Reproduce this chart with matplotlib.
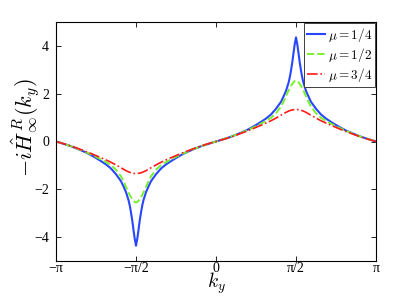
import numpy as np
import matplotlib.pyplot as plt

# k_y in units of pi/128
ky_128 = [-128, -124, -120, -116, -112, -108, -104, -100, -96, -92, -88, -84, -80, -76, -74, -72,
          -70, -69, -68, -67, -66, -65, -64, -63, -62, -61, -60, -59, -58, -56, -54, -52,
          -48, -44, -40, -36, -32, -28, -24, -20, -16, -12, -8, -4,
          0, 4, 8, 12, 16, 20, 24, 28, 32, 36, 40, 44, 48, 52, 54, 56,
          58, 59, 60, 61, 62, 63, 64, 65, 66, 67, 68, 69, 70, 72, 74, 76,
          80, 84, 88, 92, 96, 100, 104, 108, 112, 116, 120, 124, 128]

# mu = 1/4
h_14 = [0, -0.065, -0.13, -0.20, -0.28, -0.37, -0.46, -0.57, -0.69, -0.82, -0.96, -1.13, -1.37, -1.66, -1.88, -2.12,
        -2.45, -2.68, -2.97, -3.30, -3.70, -4.08, -4.36, -4.08, -3.70, -3.30, -2.97, -2.68, -2.45, -2.12, -1.88, -1.66,
        -1.37, -1.13, -0.96, -0.82, -0.69, -0.57, -0.46, -0.37, -0.28, -0.20, -0.13, -0.065,
        0, 0.065, 0.13, 0.20, 0.28, 0.37, 0.46, 0.57, 0.69, 0.82, 0.96, 1.13, 1.37, 1.66, 1.88, 2.12,
        2.45, 2.68, 2.97, 3.30, 3.70, 4.08, 4.36, 4.08, 3.70, 3.30, 2.97, 2.68, 2.45, 2.12, 1.88, 1.66,
        1.37, 1.13, 0.96, 0.82, 0.69, 0.57, 0.46, 0.37, 0.28, 0.20, 0.13, 0.065, 0]

# mu = 1/2
h_12 = [0, -0.065, -0.13, -0.20, -0.28, -0.36, -0.45, -0.54, -0.64, -0.75, -0.86, -0.99, -1.18, -1.46, -1.66, -1.90,
        -2.13, -2.24, -2.33, -2.41, -2.48, -2.53, -2.55, -2.53, -2.48, -2.41, -2.33, -2.24, -2.13, -1.90, -1.66, -1.46,
        -1.18, -0.99, -0.86, -0.75, -0.64, -0.54, -0.45, -0.36, -0.28, -0.20, -0.13, -0.065,
        0, 0.065, 0.13, 0.20, 0.28, 0.36, 0.45, 0.54, 0.64, 0.75, 0.86, 0.99, 1.18, 1.46, 1.66, 1.90,
        2.13, 2.24, 2.33, 2.41, 2.48, 2.53, 2.55, 2.53, 2.48, 2.41, 2.33, 2.24, 2.13, 1.90, 1.66, 1.46,
        1.18, 0.99, 0.86, 0.75, 0.64, 0.54, 0.45, 0.36, 0.28, 0.20, 0.13, 0.065, 0]

# mu = 3/4
h_34 = [0, -0.06, -0.12, -0.19, -0.26, -0.34, -0.42, -0.50, -0.59, -0.68, -0.77, -0.87, -0.98, -1.10, -1.16, -1.22,
        -1.27, -1.29, -1.31, -1.32, -1.33, -1.34, -1.34, -1.34, -1.33, -1.32, -1.31, -1.29, -1.27, -1.22, -1.16, -1.10,
        -0.98, -0.87, -0.77, -0.68, -0.59, -0.50, -0.42, -0.34, -0.26, -0.19, -0.12, -0.06,
        0, 0.06, 0.12, 0.19, 0.26, 0.34, 0.42, 0.50, 0.59, 0.68, 0.77, 0.87, 0.98, 1.10, 1.16, 1.22,
        1.27, 1.29, 1.31, 1.32, 1.33, 1.34, 1.34, 1.34, 1.33, 1.32, 1.31, 1.29, 1.27, 1.22, 1.16, 1.10,
        0.98, 0.87, 0.77, 0.68, 0.59, 0.50, 0.42, 0.34, 0.26, 0.19, 0.12, 0.06, 0]

xtick_labels = ['\u2212\u03c0', '\u2212\u03c0/2', '0', '\u03c0/2', '\u03c0']
ytick_vals = [-4, -2, 0, 2, 4]

plt.rcParams['font.family'] = ['Liberation Serif', 'DejaVu Serif']
plt.rcParams['mathtext.fontset'] = 'cm'

ky = np.array(ky_128) * np.pi / 128

fig = plt.figure(figsize=(4.15, 2.96), dpi=100)
ax = fig.add_axes([56 / 415, 1 - 261 / 296, 320 / 415, 239 / 296])

ax.plot(ky, h_14, '-', color='#2846ff', lw=1.5, label=r'$\mu = 1/4$')
ax.plot(ky, h_12, '--', color='#77f02a', lw=1.4, label=r'$\mu = 1/2$')
ax.plot(ky, h_34, '-.', color='#ff1a1a', lw=1.2, label=r'$\mu = 3/4$')

ax.set_xlim(-np.pi, np.pi)
ax.set_ylim(-5, 5)
ax.set_xticks(np.array([-1, -0.5, 0, 0.5, 1]) * np.pi)
ax.set_xticklabels(xtick_labels)
ax.set_yticks(ytick_vals)
ax.set_yticklabels([str(v).replace('-', '\u2212') for v in ytick_vals])
ax.tick_params(direction='in', top=True, right=True, length=3.5, width=0.6, labelsize=10)
ax.tick_params(axis='x', pad=1)
ax.tick_params(axis='y', pad=5)
for s in ax.spines.values():
    s.set_linewidth(0.8)

ax.set_xlabel(r'$k_y$', fontsize=14)
ax.xaxis.set_label_coords(0.5, -0.113)
ax.xaxis.label.set_va('baseline')
ax.set_ylabel(r'$-i\hat{H}^{\,R}_{\infty}(k_y)$', fontsize=16)
ax.yaxis.set_label_coords(-0.045, 0.56)

leg = ax.legend(loc='upper right', fontsize=9.5, fancybox=False, edgecolor='#404040',
                borderaxespad=0.1, handlelength=1.4, handletextpad=0.2,
                labelspacing=0.15, borderpad=0.2, framealpha=1)
leg.get_frame().set_linewidth(0.7)

fig.savefig('out.png', dpi=100)
